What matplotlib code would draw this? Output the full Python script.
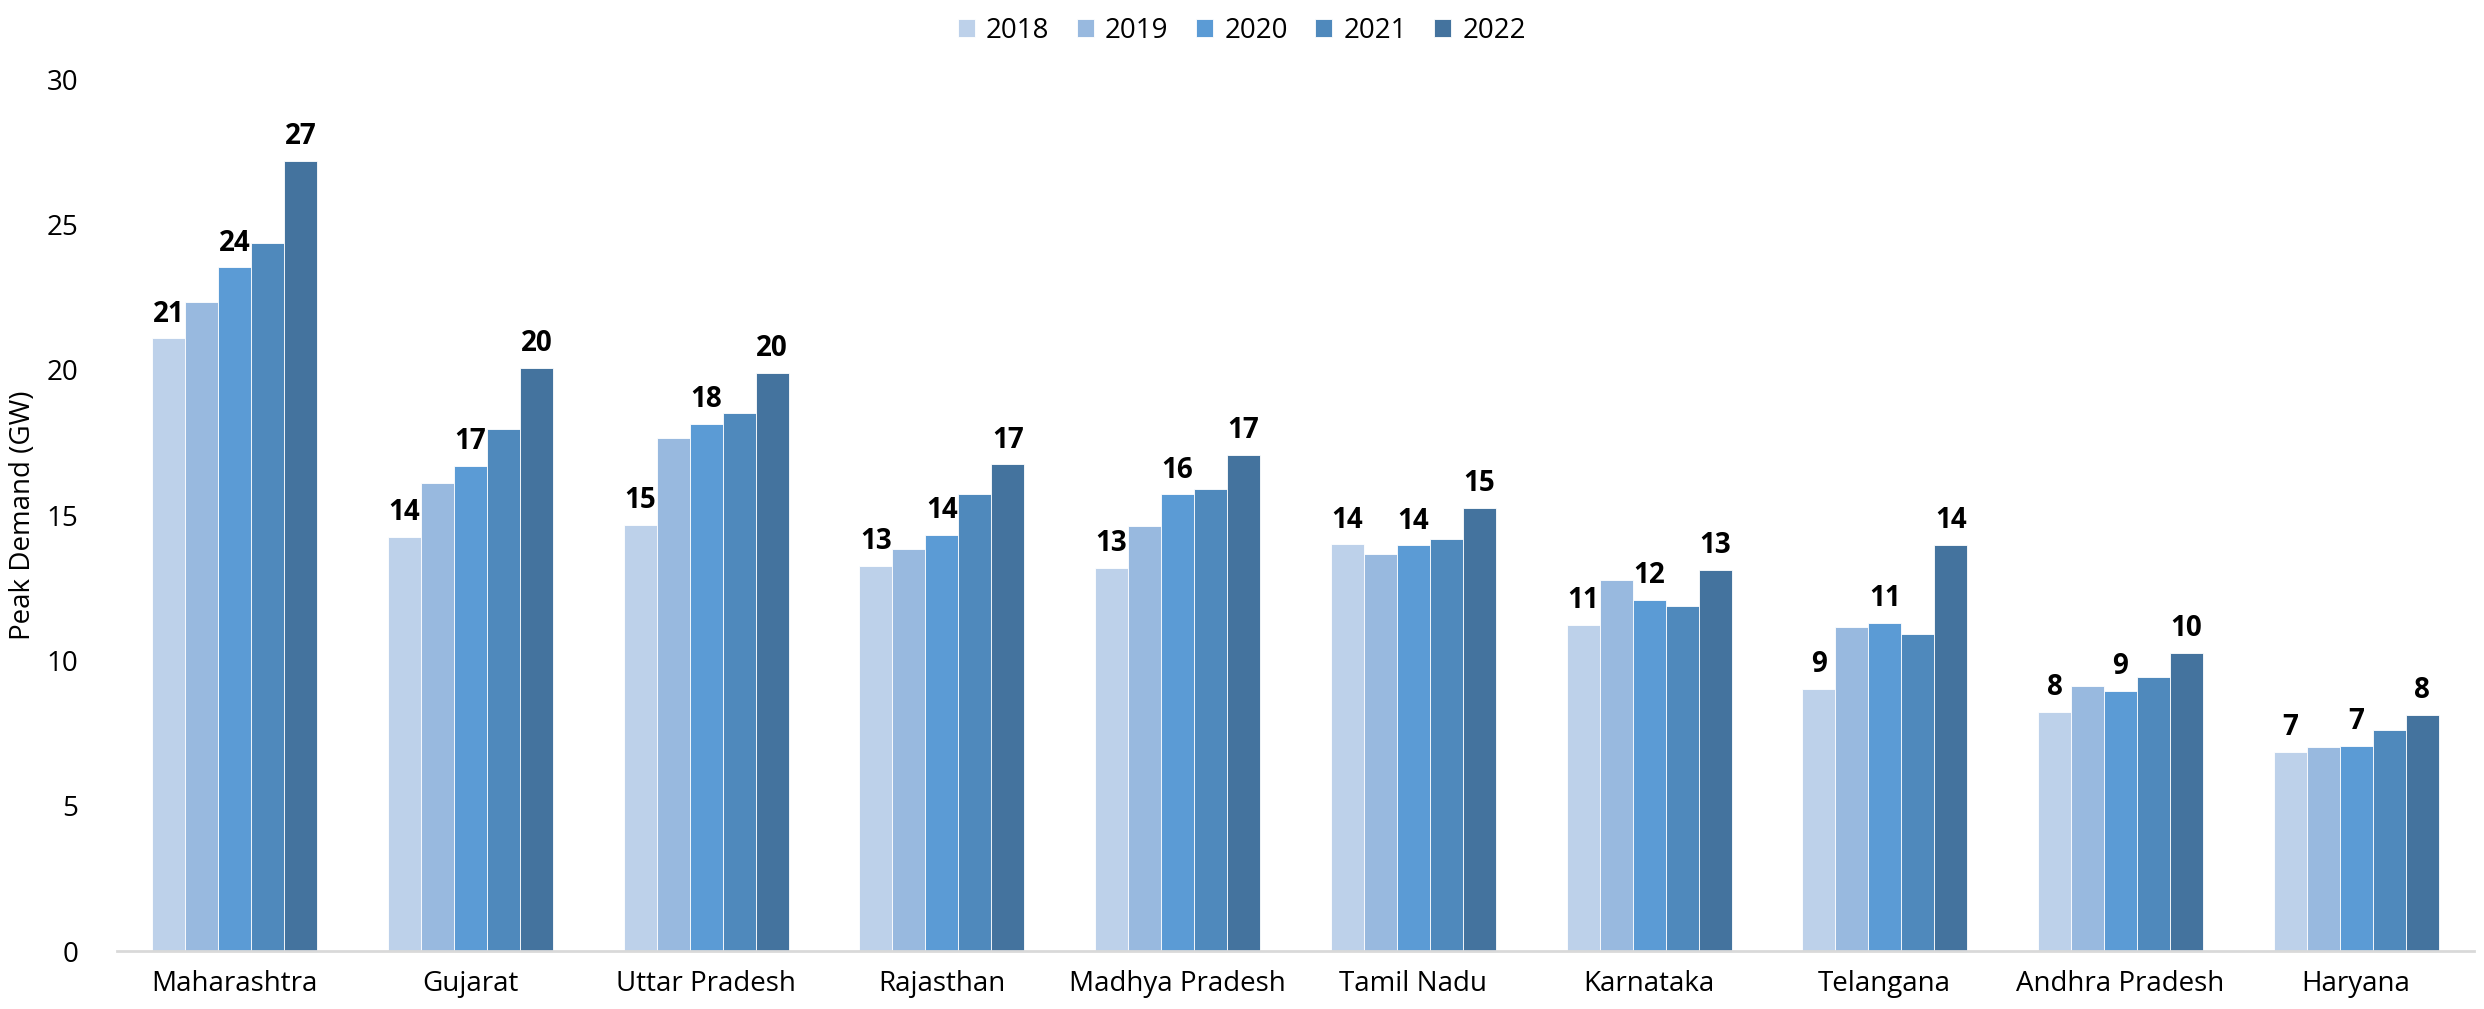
import numpy as np
import matplotlib
matplotlib.use('Agg')
import matplotlib.pyplot as plt

plt.rcParams['font.family'] = ['Open Sans', 'DejaVu Sans']

states = ["Maharashtra", "Gujarat", "Uttar Pradesh", "Rajasthan", "Madhya Pradesh",
          "Tamil Nadu", "Karnataka", "Telangana", "Andhra Pradesh", "Haryana"]
years = ["2018", "2019", "2020", "2021", "2022"]

# peak demand in GW, one list per year
d2018 = [21.08, 14.25, 14.65, 13.24, 13.18, 13.99, 11.22, 9.02, 8.22, 6.85]
d2019 = [22.34, 16.09, 17.65, 13.82, 14.63, 13.66, 12.76, 11.14, 9.11, 7.03]
d2020 = [23.52, 16.70, 18.13, 14.32, 15.71, 13.96, 12.08, 11.30, 8.95, 7.05]
d2021 = [24.37, 17.97, 18.52, 15.71, 15.88, 14.18, 11.87, 10.92, 9.44, 7.60]
d2022 = [27.18, 20.07, 19.90, 16.74, 17.07, 15.24, 13.11, 13.98, 10.25, 8.12]
series = [d2018, d2019, d2020, d2021, d2022]

colors = ["#bdd1ea", "#98b9df", "#5b9bd5", "#4f89bc", "#44739e"]
labelled = [0, 2, 4]  # only every other year gets a value label

fig = plt.figure(figsize=(24.84, 10.09), dpi=100)
ax = fig.add_axes([117 / 2484, 1 - 951 / 1009, 2357 / 2484, 872 / 1009])

x = np.arange(len(states))
w = 0.14
for i, (vals, c) in enumerate(zip(series, colors)):
    pos = x + (i - 2) * w
    ax.bar(pos, vals, w, color=c, edgecolor="white", linewidth=0.6, label=years[i])
    if i in labelled:
        for xp, v in zip(pos, vals):
            ax.annotate(f"{v:.0f}", (xp, v), xytext=(0, 7), textcoords="offset points",
                        ha="center", va="bottom", fontsize=20, fontweight="bold")

ax.set_xlim(-0.5, len(states) - 0.5)
ax.set_ylim(0, 30)
ax.set_yticks(range(0, 31, 5))
ax.set_xticks(x)
ax.set_xticklabels(states, fontsize=20)
ax.tick_params(axis="y", labelsize=20, length=0, pad=28)
ax.tick_params(axis="x", length=0, pad=14)
ax.set_ylabel("Peak Demand (GW)", fontsize=20)
ax.yaxis.set_label_coords(-0.034, 0.5)

for s in ["top", "right", "left"]:
    ax.spines[s].set_visible(False)
ax.spines["bottom"].set_color("#d9d9d9")
ax.spines["bottom"].set_linewidth(2)

fig.legend(loc="upper center", bbox_to_anchor=(0.5, 1.0), ncol=5, frameon=False,
           fontsize=20, handlelength=0.6, handleheight=0.6, handletextpad=0.4,
           columnspacing=1.0, borderaxespad=0.2)

plt.savefig("out.png", dpi=100)
